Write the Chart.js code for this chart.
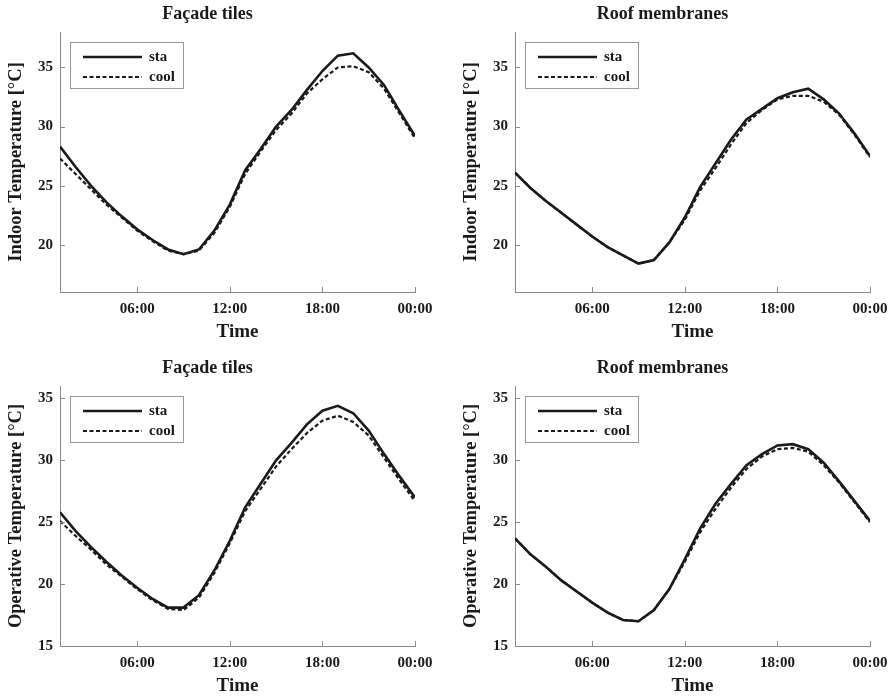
<!DOCTYPE html>
<html>
<head>
<meta charset="utf-8">
<script src="https://cdn.jsdelivr.net/npm/chart.js@4"></script>
<style>
  body { margin: 0; background: #fff; }
  #wrap { position: relative; width: 896px; height: 700px; }
  .panel { position: absolute; width: 441px; height: 346px; }
</style>
</head>
<body>
<div id="wrap">
  <div class="panel" style="left:0; top:0;"><canvas id="c1"></canvas></div>
  <div class="panel" style="left:455px; top:0;"><canvas id="c2"></canvas></div>
  <div class="panel" style="left:0; top:354px;"><canvas id="c3"></canvas></div>
  <div class="panel" style="left:455px; top:354px;"><canvas id="c4"></canvas></div>
</div>
<script>
// Hourly simulation results, 01:00 .. 24:00
const hours = [1, 2, 3, 4, 5, 6, 7, 8, 9, 10, 11, 12, 13, 14, 15, 16, 17, 18, 19, 20, 21, 22, 23, 24];
const xTickValues = [6, 12, 18, 24];
const xTickLabels = ['06:00', '12:00', '18:00', '00:00'];
const seriesNames = ['sta', 'cool'];

// Indoor air temperature
const indoorFacadeSta  = [28.3, 26.6, 25.0, 23.6, 22.4, 21.3, 20.4, 19.6, 19.2, 19.6, 21.2, 23.4, 26.3, 28.1, 30.0, 31.4, 33.1, 34.7, 36.0, 36.2, 35.0, 33.5, 31.3, 29.2];
const indoorFacadeCool = [27.3, 26.0, 24.7, 23.4, 22.3, 21.2, 20.3, 19.5, 19.2, 19.5, 21.0, 23.2, 26.0, 27.9, 29.7, 31.1, 32.8, 34.0, 35.0, 35.1, 34.6, 33.2, 31.1, 29.0];
const indoorRoofSta    = [26.1, 24.8, 23.7, 22.7, 21.7, 20.7, 19.8, 19.1, 18.4, 18.7, 20.2, 22.3, 24.9, 26.9, 28.9, 30.6, 31.5, 32.4, 32.9, 33.2, 32.3, 31.1, 29.4, 27.5];
const indoorRoofCool   = [26.1, 24.8, 23.7, 22.7, 21.7, 20.7, 19.8, 19.1, 18.4, 18.7, 20.2, 22.1, 24.6, 26.5, 28.5, 30.3, 31.4, 32.3, 32.6, 32.6, 32.1, 31.0, 29.3, 27.4];
const indoorTicks = [20, 25, 30, 35];

// Operative temperature
const operFacadeSta  = [25.8, 24.3, 23.0, 21.8, 20.7, 19.7, 18.8, 18.1, 18.1, 19.1, 21.1, 23.5, 26.2, 28.1, 30.0, 31.4, 32.9, 34.0, 34.4, 33.8, 32.4, 30.5, 28.7, 27.0];
const operFacadeCool = [25.1, 23.9, 22.8, 21.6, 20.6, 19.6, 18.7, 18.0, 17.9, 18.9, 20.9, 23.3, 25.9, 27.7, 29.5, 30.9, 32.2, 33.2, 33.6, 33.1, 32.0, 30.2, 28.4, 26.7];
const operRoofSta    = [23.7, 22.4, 21.4, 20.3, 19.4, 18.5, 17.7, 17.1, 17.0, 17.9, 19.6, 22.0, 24.5, 26.5, 28.1, 29.6, 30.5, 31.2, 31.3, 30.9, 29.8, 28.3, 26.7, 25.1];
const operRoofCool   = [23.7, 22.4, 21.4, 20.3, 19.4, 18.5, 17.7, 17.1, 17.0, 17.9, 19.6, 21.8, 24.2, 26.1, 27.8, 29.3, 30.3, 30.9, 31.0, 30.7, 29.6, 28.2, 26.6, 25.0];
const operTicks = [15, 20, 25, 30, 35];

const FONT = "'Liberation Serif', 'Times New Roman', serif";
const INK = '#1a1a1a';
const AXIS = '#8a8a8a';

// inward tick marks + boxed legend in the upper-left corner
const matlabLook = {
  id: 'matlabLook',
  afterDraw(chart) {
    const { ctx, chartArea: a, scales } = chart;
    ctx.save();
    ctx.strokeStyle = AXIS;
    ctx.lineWidth = 1;
    ctx.beginPath();
    scales.x.ticks.forEach(t => {
      const px = Math.round(scales.x.getPixelForValue(t.value)) + 0.5;
      ctx.moveTo(px, a.bottom);
      ctx.lineTo(px, a.bottom - 5);
    });
    scales.y.ticks.forEach(t => {
      const py = Math.round(scales.y.getPixelForValue(t.value)) + 0.5;
      ctx.moveTo(a.left, py);
      ctx.lineTo(a.left + 5, py);
    });
    ctx.stroke();

    // legend
    const bx = a.left + 10, by = a.top + 10;
    ctx.strokeStyle = '#9a9a9a';
    ctx.strokeRect(bx + 0.5, by + 0.5, 113, 46);
    chart.data.datasets.forEach((ds, i) => {
      const y = by + 15 + i * 20;
      ctx.strokeStyle = ds.borderColor;
      ctx.lineWidth = ds.borderWidth;
      ctx.setLineDash(ds.borderDash || []);
      ctx.beginPath();
      ctx.moveTo(bx + 13, y);
      ctx.lineTo(bx + 72, y);
      ctx.stroke();
      ctx.setLineDash([]);
      ctx.fillStyle = INK;
      ctx.font = 'bold 15px ' + FONT;
      ctx.textBaseline = 'middle';
      ctx.fillText(ds.label, bx + 79, y);
    });
    ctx.restore();
  }
};

function makePanel(id, title, yLabel, sta, cool, yMin, yMax, yTicks) {
  return new Chart(document.getElementById(id), {
    type: 'line',
    data: {
      labels: hours,
      datasets: [{
        label: seriesNames[0],
        data: sta,
        borderColor: INK,
        borderWidth: 2.6,
        pointRadius: 0,
        tension: 0
      }, {
        label: seriesNames[1],
        data: cool,
        borderColor: INK,
        borderWidth: 2.2,
        borderDash: [4, 2.5],
        pointRadius: 0,
        tension: 0
      }]
    },
    options: {
      responsive: true,
      maintainAspectRatio: false,
      animation: false,
      layout: { padding: { left: 0, right: 26, top: 0, bottom: 2 } },
      plugins: {
        legend: { display: false },
        tooltip: { enabled: false },
        title: {
          display: true,
          text: title,
          color: INK,
          font: { family: FONT, size: 18, weight: 'bold' },
          padding: { top: 4, bottom: 6.4 }
        }
      },
      scales: {
        x: {
          type: 'linear',
          min: 1,
          max: 24,
          afterBuildTicks: s => { s.ticks = xTickValues.map(v => ({ value: v })); },
          afterFit: s => { s.height = 52; },
          grid: { display: false, drawTicks: false },
          border: { display: true, color: AXIS, width: 1 },
          ticks: {
            color: INK,
            padding: 8,
            maxRotation: 0,
            font: { family: FONT, size: 15, weight: 'bold' },
            callback: v => xTickLabels[xTickValues.indexOf(v)]
          },
          title: {
            display: true,
            text: 'Time',
            color: INK,
            font: { family: FONT, size: 19, weight: 'bold' },
            padding: { top: 0, bottom: 1 }
          }
        },
        y: {
          min: yMin,
          max: yMax,
          afterBuildTicks: s => { s.ticks = yTicks.map(v => ({ value: v })); },
          afterFit: s => { s.width = 60; },
          grid: { display: false, drawTicks: false },
          border: { display: true, color: AXIS, width: 1 },
          ticks: {
            color: INK,
            padding: 7,
            font: { family: FONT, size: 15, weight: 'bold' }
          },
          title: {
            display: true,
            text: yLabel,
            color: INK,
            font: { family: FONT, size: 18.5, weight: 'bold' },
            padding: { top: 5, bottom: 0 }
          }
        }
      }
    },
    plugins: [matlabLook]
  });
}

makePanel('c1', 'Façade tiles', 'Indoor Temperature [°C]', indoorFacadeSta, indoorFacadeCool, 16, 38, indoorTicks);
makePanel('c2', 'Roof membranes', 'Indoor Temperature [°C]', indoorRoofSta, indoorRoofCool, 16, 38, indoorTicks);
makePanel('c3', 'Façade tiles', 'Operative Temperature [°C]', operFacadeSta, operFacadeCool, 15, 36, operTicks);
makePanel('c4', 'Roof membranes', 'Operative Temperature [°C]', operRoofSta, operRoofCool, 15, 36, operTicks);
</script>
</body>
</html>
